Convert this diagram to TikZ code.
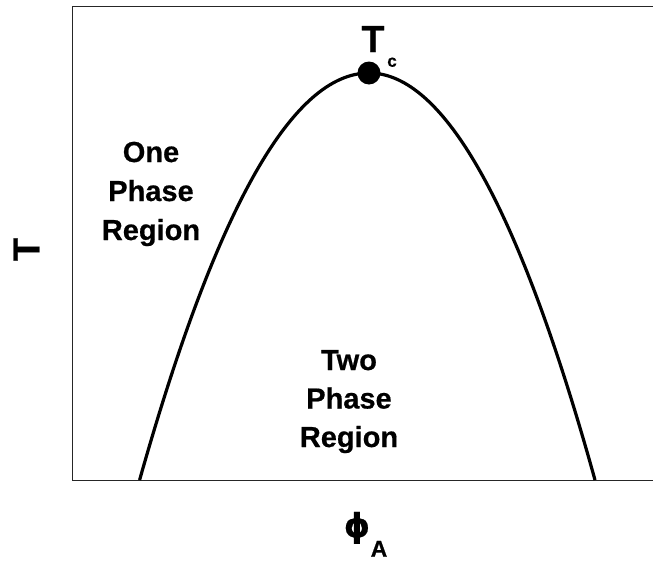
\documentclass[tikz,border=0pt]{standalone}
\usepackage{fontspec}
\setmainfont{Liberation Sans}
\newfontfamily\heavyfont{Liberation Sans Bold}[FakeBold=0.6]
\newfontfamily\greekfont{DejaVu Sans Bold}[FakeBold=0.6]
\begin{document}
\begin{tikzpicture}[x=1pt,y=-1pt,
  lbl/.style={inner sep=0pt,anchor=base,font=\heavyfont\fontsize{29}{39}\selectfont},
  big/.style={inner sep=0pt,font=\heavyfont\fontsize{37.7}{40}\selectfont},
  axisline/.style={line width=1pt,black!85},
  curve/.style={line width=3.2pt}]
\useasboundingbox (0,0) rectangle (653,562);
% axes
\coordinate (tr) at (653,6);
\coordinate (tl) at (72.5,6);
\coordinate (bl) at (72.5,480);
\coordinate (br) at (653,480);
\draw[axisline] (tr) -- (tl) -- (bl) -- (br);
% coexistence curve
\coordinate (L) at (139.6,480);
\coordinate (C) at (369,73);
\coordinate (R) at (595,480);
\draw[curve] (L) .. controls (216.1,208.7) and (292.5,73) .. (C)
  .. controls (444.3,73) and (519.7,208.7) .. (R);
\fill (C) circle[radius=11.5];
% labels
\node[big,anchor=base] (tc) at (373,52) {T};
\node[inner sep=0pt,anchor=base,font=\heavyfont\fontsize{17}{20}\selectfont] (tcsub) at (392,66.7) {c};
\node[big,rotate=90] (ty) at (26.5,249.5) {T};
\node[inner sep=0pt,anchor=base,font=\greekfont\fontsize{33}{40}\selectfont] (phi) at (357,537) {ϕ};
\node[inner sep=0pt,anchor=base,font=\heavyfont\fontsize{23}{26}\selectfont] (phisub) at (379,556.7) {A};
\node[lbl] (one1) at (151,162) {One};
\node[lbl] (one2) at (151,201) {Phase};
\node[lbl] (one3) at (151,240) {Region};
\node[lbl] (two1) at (349,370) {Two};
\node[lbl] (two2) at (349,408.5) {Phase};
\node[lbl] (two3) at (349,447) {Region};
\end{tikzpicture}
\end{document}
